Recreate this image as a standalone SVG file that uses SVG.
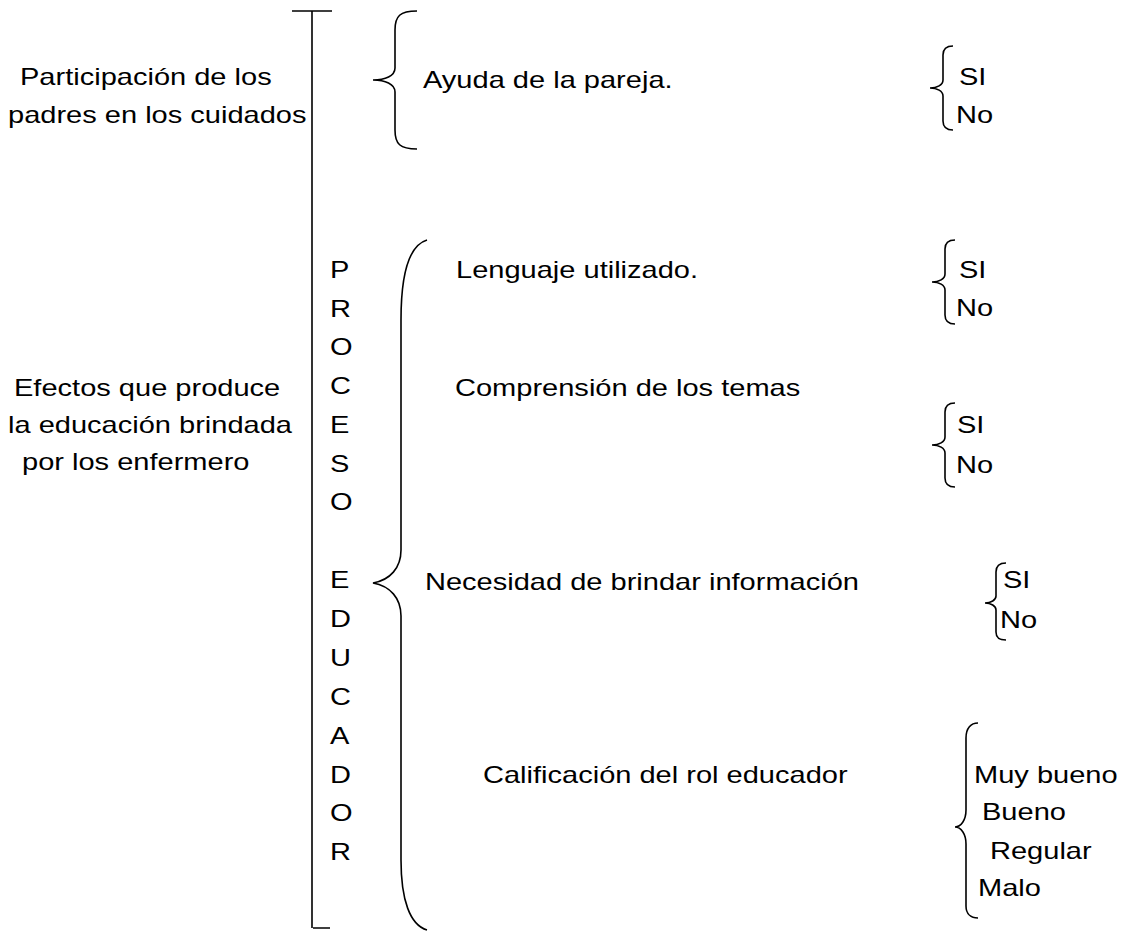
<svg xmlns="http://www.w3.org/2000/svg" width="1135" height="932" viewBox="0 0 1135 932">
<style>
text{font-family:"Liberation Sans",Arial,sans-serif;font-size:24px;fill:#000}
.ln{fill:none;stroke:#000;stroke-width:1.6}
</style>
<rect width="1135" height="932" fill="#fff"/>
<g id="connectors">
<path class="ln" d="M312,11 V928 M292,11 H332 M313,928 H330"/>
<path class="ln" d="M417,11 C400,11 395,16 395,30 V68 C395,76 385,80 373,80 C385,80 395,84 395,92 V130 C395,144 400,149 417,149"/>
<path class="ln" d="M953,46 C946,46 943,49 943,55 V80 C943,85 937,88 930,88 C937,88 943,91 943,96 V121 C943,127 946,130 953,130"/>
<path class="ln" d="M955,240 C948,240 945,243 945,249 V274 C945,279 939,282 932,282 C939,282 945,285 945,290 V315 C945,321 948,324 955,324"/>
<path class="ln" d="M955,403 C948,403 945,406 945,412 V437 C945,442 939,445 932,445 C939,445 945,448 945,453 V478 C945,484 948,487 955,487"/>
<path class="ln" d="M1006,563 C999,563 996,566 996,572 V596 C996,600 991,603 985,603 C991,603 996,606 996,610 V632 C996,638 999,640 1006,640"/>
<path class="ln" d="M978,723 C971,723 966,728 966,738 V810 C966,820 961,827 955,827 C961,827 966,834 966,844 V906 C966,914 971,918 978,918"/>
<path class="ln" d="M427,240 C410,245 401,270 401,320 V550 C401,568 390,580 373,583 C390,586 401,598 401,616 V860 C401,900 410,925 427,930"/>
</g>
<g id="n_participacion"><text transform="matrix(1.21 0 0 1 20 85)">Participación de los</text><text transform="matrix(1.21 0 0 1 8 123)">padres en los cuidados</text></g>
<g id="n_ayuda"><text transform="matrix(1.21 0 0 1 423 88)">Ayuda de la pareja.</text></g>
<g id="n_sino1"><text transform="matrix(1.21 0 0 1 959 85)">SI</text><text transform="matrix(1.21 0 0 1 956 123)">No</text></g>
<g id="n_efectos"><text transform="matrix(1.21 0 0 1 14 396)">Efectos que produce</text><text transform="matrix(1.21 0 0 1 8 433)">la educación brindada</text><text transform="matrix(1.21 0 0 1 22 470)">por los enfermero</text></g>
<g id="n_proceso">
<text transform="matrix(1.21 0 0 1 330 278)">P</text><text transform="matrix(1.21 0 0 1 330 317)">R</text><text transform="matrix(1.21 0 0 1 330 355)">O</text><text transform="matrix(1.21 0 0 1 330 394)">C</text><text transform="matrix(1.21 0 0 1 330 433)">E</text><text transform="matrix(1.21 0 0 1 330 472)">S</text><text transform="matrix(1.21 0 0 1 330 510)">O</text>
<text transform="matrix(1.21 0 0 1 330 588)">E</text><text transform="matrix(1.21 0 0 1 330 627)">D</text><text transform="matrix(1.21 0 0 1 330 666)">U</text><text transform="matrix(1.21 0 0 1 330 705)">C</text><text transform="matrix(1.21 0 0 1 330 744)">A</text><text transform="matrix(1.21 0 0 1 330 783)">D</text><text transform="matrix(1.21 0 0 1 330 821)">O</text><text transform="matrix(1.21 0 0 1 330 860)">R</text>
</g>
<g id="n_lenguaje"><text transform="matrix(1.21 0 0 1 456 278)">Lenguaje utilizado.</text></g>
<g id="n_sino2"><text transform="matrix(1.21 0 0 1 959 278)">SI</text><text transform="matrix(1.21 0 0 1 956 316)">No</text></g>
<g id="n_comprension"><text transform="matrix(1.21 0 0 1 455 396)">Comprensión de los temas</text></g>
<g id="n_sino3"><text transform="matrix(1.21 0 0 1 957 433)">SI</text><text transform="matrix(1.21 0 0 1 956 473)">No</text></g>
<g id="n_necesidad"><text transform="matrix(1.21 0 0 1 425 590)">Necesidad de brindar información</text></g>
<g id="n_sino4"><text transform="matrix(1.21 0 0 1 1003 588)">SI</text><text transform="matrix(1.21 0 0 1 1000 628)">No</text></g>
<g id="n_calificacion"><text transform="matrix(1.21 0 0 1 483 783)">Calificación del rol educador</text></g>
<g id="n_escala"><text transform="matrix(1.21 0 0 1 974 783)">Muy bueno</text><text transform="matrix(1.21 0 0 1 982 820)">Bueno</text><text transform="matrix(1.21 0 0 1 990 859)">Regular</text><text transform="matrix(1.21 0 0 1 978 896)">Malo</text></g>
</svg>
